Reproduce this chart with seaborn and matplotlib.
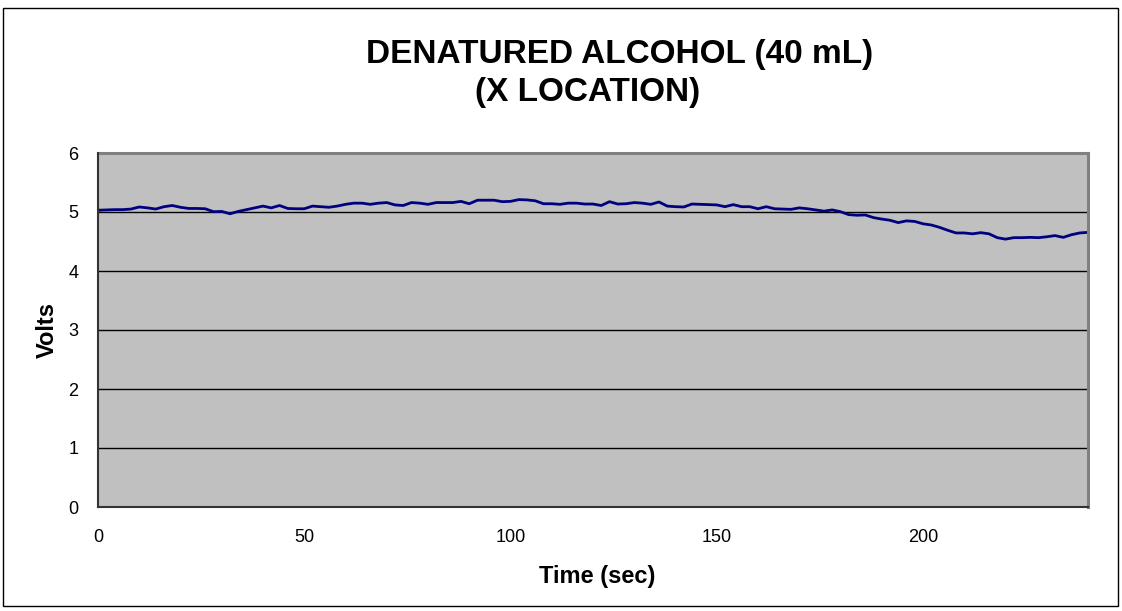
import numpy as np
import pandas as pd
import matplotlib
matplotlib.use("Agg")
import matplotlib.pyplot as plt
import seaborn as sns
from matplotlib.patches import Rectangle

# readings every 2 seconds, 0..240 sec
time_sec = np.arange(0, 242, 2)
volts = [5.03, 5.035, 5.04, 5.04, 5.05, 5.085, 5.07, 5.05, 5.09, 5.11,
         5.08, 5.06, 5.06, 5.055, 5.005, 5.01, 4.97, 5.01, 5.04, 5.07,
         5.10, 5.07, 5.11, 5.06, 5.055, 5.055, 5.10, 5.09, 5.08, 5.10,
         5.13, 5.15, 5.15, 5.13, 5.15, 5.16, 5.12, 5.11, 5.16, 5.15,
         5.13, 5.16, 5.16, 5.16, 5.18, 5.14, 5.20, 5.20, 5.20, 5.175,
         5.18, 5.21, 5.205, 5.19, 5.14, 5.14, 5.13, 5.15, 5.15, 5.135,
         5.135, 5.11, 5.175, 5.135, 5.14, 5.16, 5.15, 5.13, 5.17, 5.10,
         5.09, 5.085, 5.135, 5.13, 5.125, 5.12, 5.09, 5.125, 5.09, 5.09,
         5.055, 5.09, 5.055, 5.05, 5.045, 5.07, 5.055, 5.035, 5.015, 5.035,
         5.005, 4.955, 4.945, 4.95, 4.905, 4.88, 4.86, 4.82, 4.85, 4.84,
         4.80, 4.78, 4.74, 4.69, 4.645, 4.645, 4.63, 4.65, 4.63, 4.565,
         4.54, 4.565, 4.565, 4.57, 4.565, 4.58, 4.60, 4.57, 4.615, 4.645,
         4.655]

df = pd.DataFrame({"Time (sec)": time_sec, "Volts": volts})

sns.set_style("white")
plt.rcParams["font.family"] = ["Liberation Sans", "DejaVu Sans"]
plt.rcParams["text.color"] = "black"
plt.rcParams["axes.labelcolor"] = "black"
plt.rcParams["xtick.color"] = "black"
plt.rcParams["ytick.color"] = "black"

fig = plt.figure(figsize=(11.22, 6.11), dpi=100)
ax = fig.add_axes([98 / 1122, 1 - 507 / 611, 990 / 1122, 354 / 611])
ax.set_facecolor("#C0C0C0")

sns.lineplot(data=df, x="Time (sec)", y="Volts", color="#000080",
             linewidth=2, ax=ax)

ax.set_xlim(0, 240)
ax.set_ylim(0, 6)
ax.set_xticks([0, 50, 100, 150, 200])
ax.set_yticks(range(0, 7))
for v in range(1, 6):
    ax.axhline(v, color="black", linewidth=1, zorder=1)

for s in ["top", "right"]:
    ax.spines[s].set_color("#808080")
    ax.spines[s].set_linewidth(2.2)
for s in ["left", "bottom"]:
    ax.spines[s].set_color("#333333")
    ax.spines[s].set_linewidth(1.5)
    ax.spines[s].set_zorder(5)

ax.tick_params(axis="y", direction="out", length=7, width=1.2,
               color="#333333", labelsize=13, pad=7)
ax.tick_params(axis="x", direction="out", length=7, width=1.2,
               color="#333333", labelsize=13, pad=9)

ax.set_xlabel("Time (sec)", fontsize=17, fontweight="bold")
ax.set_ylabel("Volts", fontsize=17, fontweight="bold")
ax.xaxis.set_label_coords(597 / 1122, 1 - 577 / 611, transform=fig.transFigure)
ax.yaxis.set_label_coords(47 / 1122, 1 - 330 / 611, transform=fig.transFigure)
ax.xaxis.label.set_va("center")
ax.yaxis.label.set_va("center")

fig.text(620 / 1122, 1 - 63 / 611, "DENATURED ALCOHOL (40 mL)", ha="center",
         va="baseline", fontsize=24, fontweight="bold")
fig.text(588 / 1122, 1 - 101 / 611, "(X LOCATION)", ha="center",
         va="baseline", fontsize=24, fontweight="bold")

fig.patches.append(Rectangle((3 / 1122, 1 - 606 / 611), 1115 / 1122, 598 / 611,
                             transform=fig.transFigure, fill=False,
                             edgecolor="black", linewidth=1))

fig.savefig("out.png", dpi=100)
